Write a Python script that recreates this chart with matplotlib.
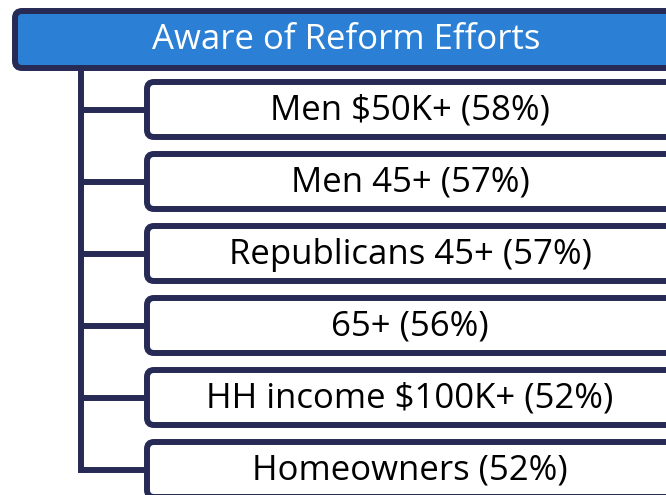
import matplotlib
matplotlib.use('Agg')
import matplotlib.pyplot as plt
from matplotlib.patches import FancyBboxPatch

# chart content
title = 'Aware of Reform Efforts'
groups = ['Men $50K+', 'Men 45+', 'Republicans 45+', '65+', 'HH income $100K+', 'Homeowners']
percents = [58, 57, 57, 56, 52, 52]

navy = '#262a55'
blue = '#2b7fd4'

fig = plt.figure(figsize=(6.66, 4.95), dpi=100)
ax = fig.add_axes([0, 0, 1, 1])
ax.set_xlim(0, 666)
ax.set_ylim(495, 0)
ax.axis('off')

lw = 4.3  # ~6 px

# header box
head = FancyBboxPatch((15, 11), 662, 57, boxstyle='round,pad=0,rounding_size=7',
                      fc=blue, ec=navy, lw=lw)
ax.add_patch(head)
ax.text(346, 40, title, ha='center', va='center', color='white',
        fontsize=25, family='Open Sans')

# child boxes
step = 72
top0 = 82
h = 55
centers = []
for i, (g, p) in enumerate(zip(groups, percents)):
    y = top0 + i * step
    cy = y + h / 2
    centers.append(cy)
    box = FancyBboxPatch((147, y), 540, h, boxstyle='round,pad=0,rounding_size=7',
                         fc='white', ec=navy, lw=lw, zorder=3)
    ax.add_patch(box)
    ax.text(410, cy + 1, f'{g} ({p}%)', ha='center', va='center', color='black',
            fontsize=25, family='Open Sans', zorder=4)
    ax.plot([81, 147], [cy, cy], color=navy, lw=lw, solid_capstyle='butt', zorder=2)

# trunk
ax.plot([81, 81], [71, centers[-1] + 3], color=navy, lw=lw, solid_capstyle='butt', zorder=2)

fig.savefig('out.png', dpi=100)
